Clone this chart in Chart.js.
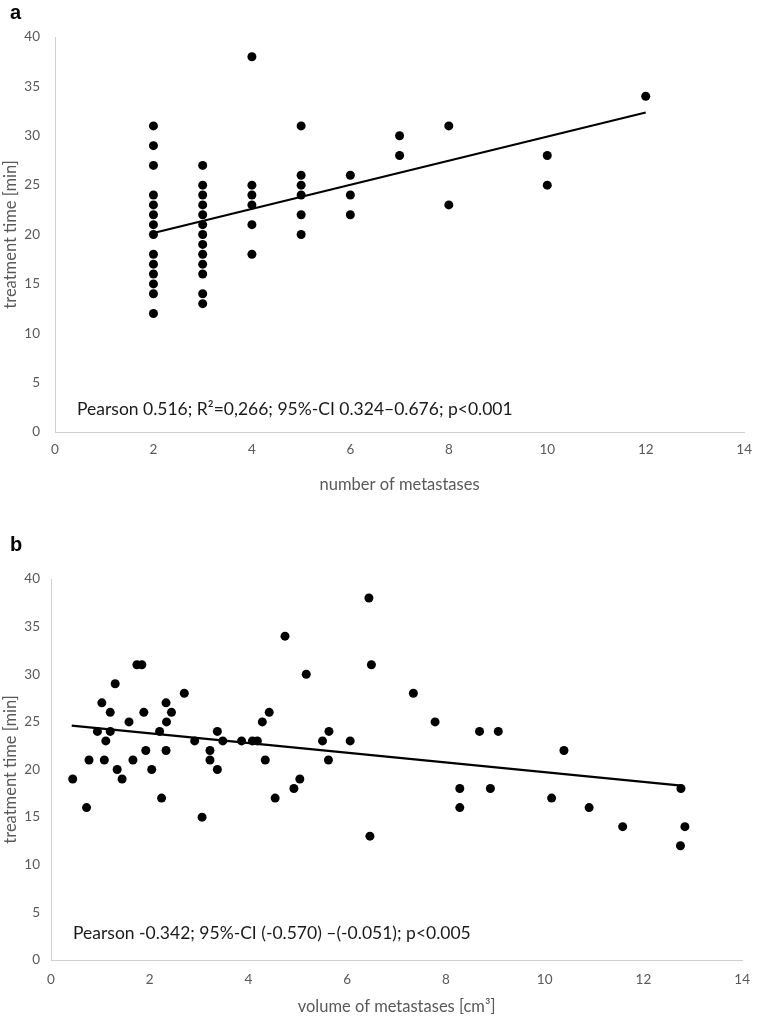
<!DOCTYPE html>
<html>
<head>
<meta charset="utf-8">
<script src="https://cdn.jsdelivr.net/npm/chart.js@4"></script>
<style>
  body { margin: 0; background: #fff; }
  .wrap { position: absolute; left: 0; width: 762px; }
  .panel { position: absolute; left: 10px; font: bold 20px "Liberation Sans", Arial, sans-serif; color: #000; }
</style>
</head>
<body>
<div class="wrap" style="top:0;height:500px"><canvas id="chart-a" width="762" height="500"></canvas></div>
<div class="wrap" style="top:500px;height:518px"><canvas id="chart-b" width="762" height="518"></canvas></div>
<div class="panel" style="top:1px">a</div>
<div class="panel" style="top:533px">b</div>
<script>
// panel a: number of metastases vs treatment time
const metCount = [
  2, 2, 2, 2, 2, 2, 2, 2, 2, 2, 2, 2, 2, 2,
  3, 3, 3, 3, 3, 3, 3, 3, 3, 3, 3, 3, 3,
  4, 4, 4, 4, 4, 4,
  5, 5, 5, 5, 5, 5,
  6, 6, 6,
  7, 7,
  8, 8,
  10, 10,
  12
];
const timeA = [
  31, 29, 27, 24, 23, 22, 21, 20, 18, 17, 16, 15, 14, 12,
  27, 25, 24, 23, 22, 21, 20, 19, 18, 17, 16, 14, 13,
  38, 25, 24, 23, 21, 18,
  31, 26, 25, 24, 22, 20,
  26, 24, 22,
  30, 28,
  31, 23,
  28, 25,
  34
];
const trendAx = [2, 12];
const trendAy = [20.15, 32.35];
const noteA = "Pearson 0.516; R\u00b2=0,266; 95%-CI 0.324\u20130.676; p<0.001";

// panel b: volume of metastases vs treatment time
const volB = [
  0.44, 0.72, 0.77, 0.94, 1.03, 1.08, 1.11, 1.20, 1.20, 1.30, 1.34, 1.44, 1.58,
  1.66, 1.74, 1.84, 1.88, 1.92, 2.04, 2.20, 2.24, 2.33, 2.34, 2.33, 2.44, 2.70,
  2.91, 3.06, 3.22, 3.22, 3.37, 3.37, 3.48, 3.86, 4.08, 4.18, 4.28, 4.34, 4.42,
  4.54, 4.74, 4.92, 5.04, 5.17, 5.50, 5.62, 5.63, 6.06, 6.44, 6.46, 6.49, 7.34,
  7.78, 8.68, 9.06, 10.39, 8.28, 8.28, 8.90, 10.14, 10.90, 11.58, 12.76, 12.84, 12.75
];
const timeB = [
  19, 16, 21, 24, 27, 21, 23, 26, 24, 29, 20, 19, 25,
  21, 31, 31, 26, 22, 20, 24, 17, 27, 25, 22, 26, 28,
  23, 15, 22, 21, 24, 20, 23, 23, 23, 23, 25, 21, 26,
  17, 34, 18, 19, 30, 23, 21, 24, 23, 38, 13, 31, 28,
  25, 24, 24, 22, 18, 16, 18, 17, 16, 14, 18, 14, 12
];
const trendBx = [0.42, 12.77];
const trendBy = [24.6, 18.3];
const noteB = "Pearson -0.342; 95%-CI (-0.570) \u2013(-0.051); p<0.005";

const xTicks = [0, 2, 4, 6, 8, 10, 12, 14];
const yTicks = [0, 5, 10, 15, 20, 25, 30, 35, 40];

const FONT = "Lato, 'Open Sans', sans-serif";
const GREY = '#595959';

function toPoints(xs, ys) {
  return xs.map((x, i) => ({ x: x, y: ys[i] }));
}

const notePlugin = {
  id: 'note',
  afterDraw(chart, args, opts) {
    const ctx = chart.ctx;
    ctx.save();
    ctx.font = '17.5px ' + FONT;
    ctx.fillStyle = '#1a1a1a';
    ctx.textBaseline = 'middle';
    ctx.fillText(opts.text, chart.chartArea.left + opts.dx, chart.chartArea.bottom - opts.dy);
    ctx.restore();
  }
};

function makeChart(id, cfg) {
  return new Chart(document.getElementById(id), {
    type: 'scatter',
    data: {
      datasets: [
        {
          data: toPoints(cfg.xs, cfg.ys),
          backgroundColor: '#000',
          borderWidth: 0,
          pointRadius: 4.5,
          pointHoverRadius: 4.5
        },
        {
          data: toPoints(cfg.tx, cfg.ty),
          showLine: true,
          borderColor: '#000',
          borderWidth: 2.2,
          pointRadius: 0,
          fill: false
        }
      ]
    },
    options: {
      responsive: false,
      animation: false,
      layout: { padding: { left: 0, top: cfg.top, right: cfg.right, bottom: 0 } },
      plugins: {
        legend: { display: false },
        tooltip: { enabled: false },
        note: { text: cfg.note, dx: 22, dy: cfg.noteDy }
      },
      scales: {
        x: {
          type: 'linear',
          min: 0,
          max: 14,
          afterBuildTicks: s => { s.ticks = xTicks.map(v => ({ value: v })); },
          afterFit: s => { s.height = cfg.xh; },
          grid: { display: false, drawTicks: false },
          border: { display: true, color: '#cfcfcf', width: 1 },
          ticks: { color: GREY, font: { family: FONT, size: 13.5 }, padding: cfg.xpad, maxRotation: 0 },
          title: {
            display: true,
            text: cfg.xTitle,
            color: GREY,
            font: { family: FONT, size: 16.5 },
            padding: { top: 0, bottom: cfg.xTitlePad }
          }
        },
        y: {
          min: 0,
          max: 40,
          afterBuildTicks: s => { s.ticks = yTicks.map(v => ({ value: v })); },
          afterFit: s => { s.width = cfg.yw; },
          grid: { display: false, drawTicks: false },
          border: { display: true, color: '#cfcfcf', width: 1 },
          ticks: { color: GREY, font: { family: FONT, size: 13.5 }, padding: cfg.ypad },
          title: {
            display: true,
            text: 'treatment time [min]',
            color: GREY,
            font: { family: FONT, size: 16.5 },
            padding: { top: 1, bottom: 0 }
          }
        }
      }
    },
    plugins: [notePlugin]
  });
}

makeChart('chart-a', {
  xs: metCount, ys: timeA, tx: trendAx, ty: trendAy, note: noteA,
  top: 37, right: 7, xh: 68, yw: 55, xpad: 10, ypad: 15, xTitlePad: 5,
  noteDy: 23, xTitle: 'number of metastases'
});

makeChart('chart-b', {
  xs: volB, ys: timeB, tx: trendBx, ty: trendBy, note: noteB,
  top: 79, right: 10, xh: 58, yw: 51, xpad: 12, ypad: 11, xTitlePad: 1,
  noteDy: 27, xTitle: 'volume of metastases [cm\u00b3]'
});
</script>
</body>
</html>
